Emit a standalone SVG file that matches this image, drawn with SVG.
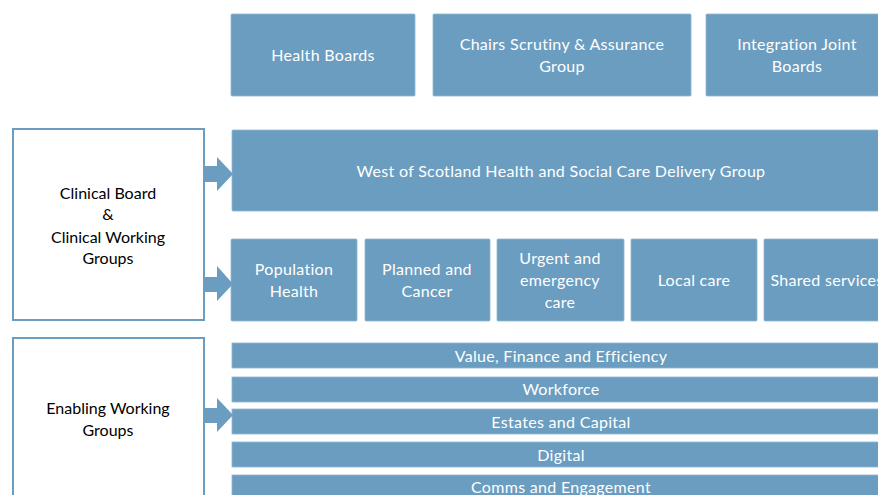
<svg xmlns="http://www.w3.org/2000/svg" width="878" height="495" viewBox="0 0 878 495">
<style>
.b{fill:#6a9dc0;stroke:#8fb6d2;stroke-width:0.8}
.o{fill:#fff;stroke:#6a9dc0;stroke-width:2}
.t{font-family:Lato,"Open Sans",sans-serif;font-size:16px;letter-spacing:0.3px;fill:#fff;text-anchor:middle}
.k{font-family:Lato,"Open Sans",sans-serif;font-size:16px;fill:#000;text-anchor:middle}
.a{fill:#6a9dc0}
</style>
<rect width="878" height="495" fill="#fff"/>
<g id="health-boards"><rect class="b" x="231" y="14" width="184" height="82" rx="1"/><text class="t" x="323" y="61">Health Boards</text></g>
<g id="chairs"><rect class="b" x="433" y="14" width="258" height="82" rx="1"/><text class="t" x="562" y="50">Chairs Scrutiny &amp; Assurance</text><text class="t" x="562" y="72">Group</text></g>
<g id="ijb"><rect class="b" x="706" y="14" width="180" height="82" rx="1"/><text class="t" x="797" y="50">Integration Joint</text><text class="t" x="797" y="72">Boards</text></g>
<g id="delivery-group"><rect class="b" x="232" y="130" width="654" height="81" rx="1"/><text class="t" x="561" y="177">West of Scotland Health and Social Care Delivery Group</text></g>
<g id="population"><rect class="b" x="231" y="239" width="126" height="82" rx="1"/><text class="t" x="294" y="275">Population</text><text class="t" x="294" y="297">Health</text></g>
<g id="planned"><rect class="b" x="365" y="239" width="125" height="82" rx="1"/><text class="t" x="427" y="275">Planned and</text><text class="t" x="427" y="297">Cancer</text></g>
<g id="urgent"><rect class="b" x="497" y="239" width="127" height="82" rx="1"/><text class="t" x="560" y="264">Urgent and</text><text class="t" x="560" y="286">emergency</text><text class="t" x="560" y="308">care</text></g>
<g id="local"><rect class="b" x="631" y="239" width="126" height="82" rx="1"/><text class="t" x="694" y="286">Local care</text></g>
<g id="shared"><rect class="b" x="764" y="239" width="126" height="82" rx="1"/><text class="t" x="827" y="286">Shared services</text></g>
<g id="clinical"><rect class="o" x="13" y="129" width="191" height="191"/><text class="k" x="108" y="199">Clinical Board</text><text class="k" x="108" y="220">&amp;</text><text class="k" x="108" y="243">Clinical Working</text><text class="k" x="108" y="264">Groups</text></g>
<g id="enabling"><rect class="o" x="13" y="338" width="191" height="170"/><text class="k" x="108" y="414">Enabling Working</text><text class="k" x="108" y="436">Groups</text></g>
<g id="value"><rect class="b" x="232" y="343" width="654" height="25"/><text class="t" x="561" y="362">Value, Finance and Efficiency</text></g>
<g id="workforce"><rect class="b" x="232" y="377" width="654" height="25"/><text class="t" x="561" y="395">Workforce</text></g>
<g id="estates"><rect class="b" x="232" y="409" width="654" height="25"/><text class="t" x="561" y="428">Estates and Capital</text></g>
<g id="digital"><rect class="b" x="232" y="442" width="654" height="25"/><text class="t" x="561" y="461">Digital</text></g>
<g id="comms"><rect class="b" x="232" y="475" width="654" height="30"/><text class="t" x="561" y="493">Comms and Engagement</text></g>
<g id="connectors">
<polygon class="a" points="204,166 217,166 217,157 233,174 217,191 217,182 204,182"/>
<polygon class="a" points="204,277 217,277 217,266 233,284 217,301 217,292 204,292"/>
<polygon class="a" points="204,408 217,408 217,398 233,415 217,432 217,423 204,423"/>
</g>
</svg>
